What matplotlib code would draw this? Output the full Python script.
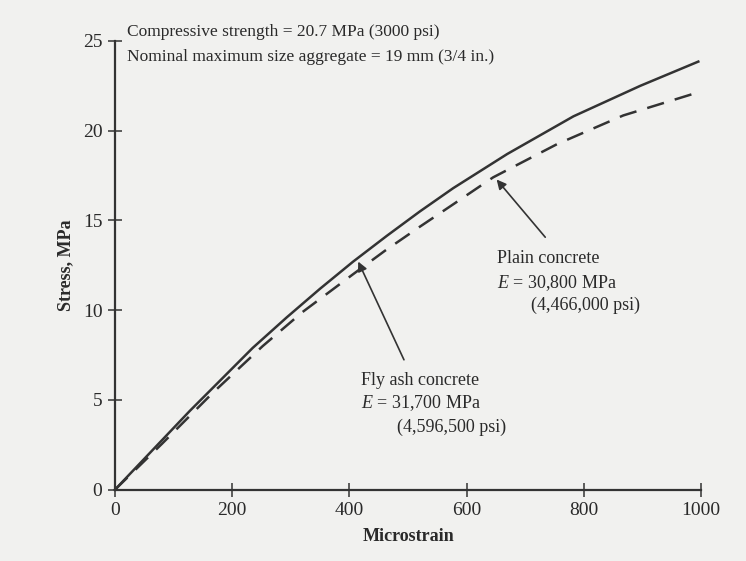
import matplotlib.pyplot as plt

# lectura de la figura (microstrain vs MPa)
STRAIN_FLY_ASH = [0, 48, 128, 180, 235, 293, 350, 406, 464, 520, 577, 669, 782, 896, 995]
STRESS_FLY_ASH = [0, 1.65, 4.4, 6.1, 7.9, 9.6, 11.2, 12.7, 14.15, 15.5, 16.8, 18.7, 20.8, 22.5, 23.85]

STRAIN_PLAIN = [0, 80, 167, 252, 320, 406, 460, 520, 577, 645, 754, 867, 986]
STRESS_PLAIN = [0, 2.55, 5.4, 8.0, 9.9, 12.0, 13.3, 14.65, 15.9, 17.4, 19.25, 20.85, 22.05]

X_TICKS = [0, 200, 400, 600, 800, 1000]
Y_TICKS = [0, 5, 10, 15, 20, 25]

COR = '#333333'
TEXTO = '#2a2a2a'
FUNDO = '#f1f1ef'

plt.rcParams['font.family'] = ['Liberation Serif', 'DejaVu Serif']
plt.rcParams['mathtext.fontset'] = 'custom'
plt.rcParams['mathtext.rm'] = 'Liberation Serif'
plt.rcParams['mathtext.it'] = 'Liberation Serif:italic'

fig = plt.figure(figsize=(7.46, 5.61), dpi=100, facecolor=FUNDO)
ax = fig.add_axes([0.154, 0.127, 0.786, 0.800])
ax.set_facecolor(FUNDO)

ax.plot(STRAIN_FLY_ASH, STRESS_FLY_ASH, color=COR, lw=1.8, clip_on=False)
ax.plot(STRAIN_PLAIN, STRESS_PLAIN, color=COR, lw=1.8, dashes=(7, 4.5), clip_on=False)

ax.set_xlim(0, 1000)
ax.set_ylim(0, 25)
ax.set_xticks(X_TICKS)
ax.set_yticks(Y_TICKS)
ax.tick_params(direction='inout', length=10, width=1.1, color=COR, labelsize=14,
               labelcolor=TEXTO, pad=4)
for lado in ['top', 'right']:
    ax.spines[lado].set_visible(False)
for lado in ['left', 'bottom']:
    ax.spines[lado].set_color(COR)
    ax.spines[lado].set_linewidth(1.6)

ax.set_xlabel('Microstrain', fontsize=13, fontweight='bold', color=TEXTO, labelpad=6)
ax.set_ylabel('Stress, MPa', fontsize=13, fontweight='bold', color=TEXTO, labelpad=6)

ax.text(20, 25.5, 'Compressive strength = 20.7 MPa (3000 psi)', fontsize=12.5,
        color=TEXTO, va='center')
ax.text(20, 24.1, 'Nominal maximum size aggregate = 19 mm (3/4 in.)', fontsize=12.5,
        color=TEXTO, va='center')

ax.annotate('', xy=(648, 17.4), xytext=(737, 13.95),
            arrowprops=dict(arrowstyle='-|>', color=COR, lw=1.2, mutation_scale=14))
ax.text(652, 12.9, 'Plain concrete', fontsize=13, color=TEXTO, va='center')
ax.text(652, 11.5, '$E$ = 30,800 MPa', fontsize=13, color=TEXTO, va='center')
ax.text(710, 10.25, '(4,466,000 psi)', fontsize=13, color=TEXTO, va='center')

ax.annotate('', xy=(413, 12.85), xytext=(495, 7.1),
            arrowprops=dict(arrowstyle='-|>', color=COR, lw=1.2, mutation_scale=14))
ax.text(420, 6.1, 'Fly ash concrete', fontsize=13, color=TEXTO, va='center')
ax.text(420, 4.8, '$E$ = 31,700 MPa', fontsize=13, color=TEXTO, va='center')
ax.text(481, 3.5, '(4,596,500 psi)', fontsize=13, color=TEXTO, va='center')

plt.savefig('out.png', dpi=100, facecolor=FUNDO)
